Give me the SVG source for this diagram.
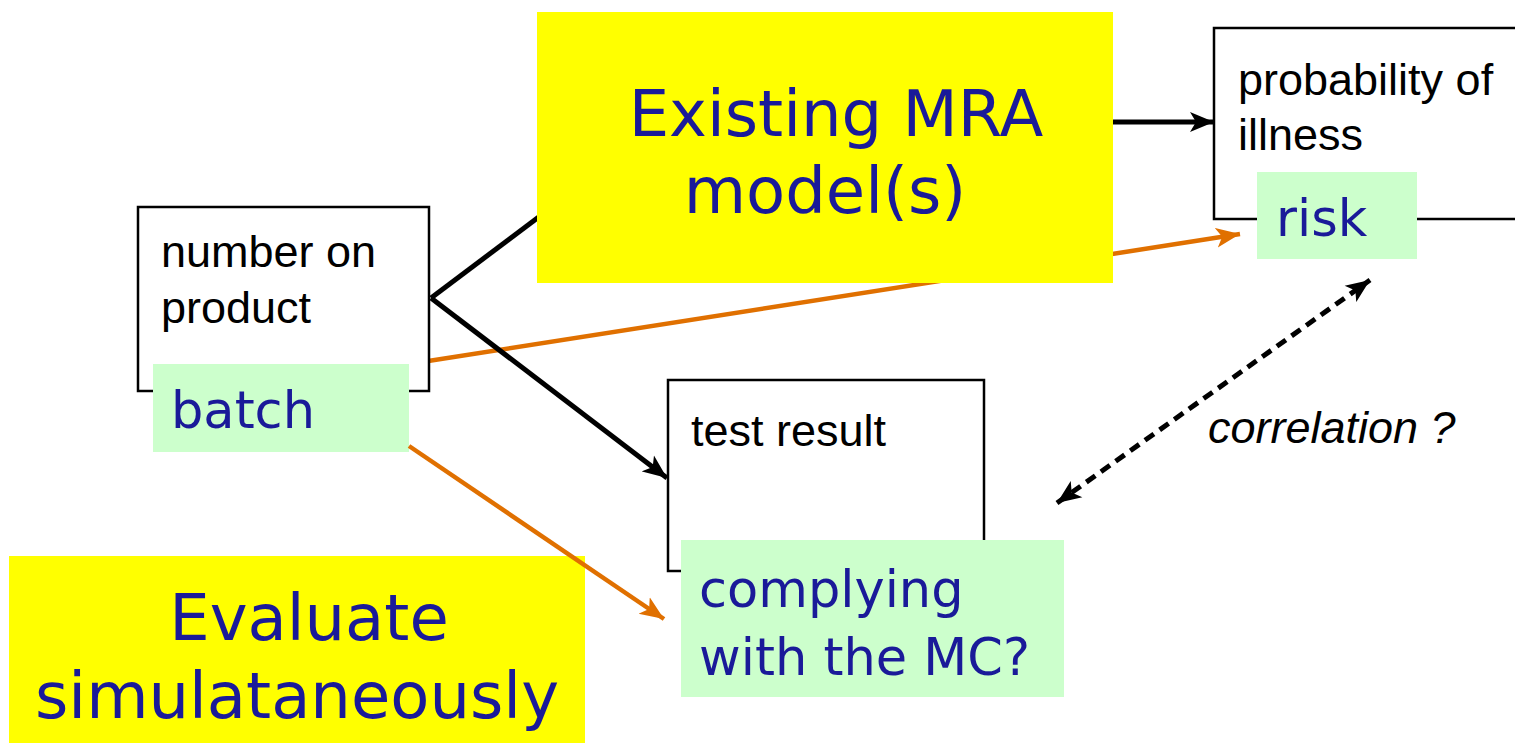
<svg xmlns="http://www.w3.org/2000/svg" width="1515" height="743" viewBox="0 0 1515 743">
<style>
.box{fill:#ffffff;stroke:#000000;stroke-width:2.5}
.yel{fill:#ffff00}
.grn{fill:#ccffcc}
.lbl{font-family:"Liberation Sans",Arial,sans-serif;font-size:45px;fill:#000000}
.big{font-family:"DejaVu Sans",Verdana,sans-serif;font-size:64px;fill:#1a1a99}
.mid{font-family:"DejaVu Sans",Verdana,sans-serif;font-size:51px;fill:#1a1a99}
.blk{stroke:#000000;stroke-width:5;fill:none}
.org{stroke:#e07000;stroke-width:4.5;fill:none}
.dash{stroke:#000000;stroke-width:5;fill:none;stroke-dasharray:11,7}
</style>
<defs>
<marker id="ab" markerUnits="userSpaceOnUse" markerWidth="26" markerHeight="22" refX="24" refY="11" orient="auto">
<path d="M0,1 L24,11 L0,21 L6,11 Z" fill="#000000"/>
</marker>
<marker id="ao" markerUnits="userSpaceOnUse" markerWidth="26" markerHeight="22" refX="24" refY="11" orient="auto">
<path d="M0,1 L24,11 L0,21 L6,11 Z" fill="#e07000"/>
</marker>
<marker id="ad" markerUnits="userSpaceOnUse" markerWidth="26" markerHeight="22" refX="24" refY="11" orient="auto-start-reverse">
<path d="M0,1 L24,11 L0,21 L6,11 Z" fill="#000000"/>
</marker>
</defs>

<g id="connectors-back">
<line class="blk" x1="431" y1="298" x2="560" y2="201"/>
<line class="org" x1="409" y1="364" x2="1240" y2="234" marker-end="url(#ao)"/>
</g>

<g id="node-mra">
<rect class="yel" x="537" y="12" width="576" height="271"/>
<text class="big" x="836" y="136" text-anchor="middle">Existing MRA</text>
<text class="big" x="825" y="213" text-anchor="middle">model(s)</text>
</g>

<g id="node-number">
<rect class="box" x="138" y="207" width="291" height="184"/>
<text class="lbl" x="161" y="267">number on</text>
<text class="lbl" x="161" y="323">product</text>
</g>

<g id="node-batch">
<rect class="grn" x="153" y="364" width="256" height="88"/>
<text class="mid" x="171" y="428">batch</text>
</g>

<g id="node-probability">
<rect class="box" x="1214" y="28" width="310" height="191"/>
<text class="lbl" x="1238" y="95">probability of</text>
<text class="lbl" x="1238" y="150">illness</text>
</g>

<g id="node-risk">
<rect class="grn" x="1257" y="172" width="160" height="87"/>
<text class="mid" x="1276" y="236">risk</text>
</g>

<g id="node-test">
<rect class="box" x="668" y="380" width="316" height="191"/>
<text class="lbl" x="691" y="446">test result</text>
</g>

<g id="node-complying">
<rect class="grn" x="681" y="540" width="383" height="157"/>
<text class="mid" x="699" y="607">complying</text>
<text class="mid" x="699" y="675">with the MC?</text>
</g>

<g id="node-evaluate">
<rect class="yel" x="9" y="556" width="576" height="187"/>
<text class="big" x="309" y="640" text-anchor="middle">Evaluate</text>
<text class="big" x="297" y="718" text-anchor="middle">simulataneously</text>
</g>

<g id="connectors">
<line class="blk" x1="1113" y1="122" x2="1214" y2="122" marker-end="url(#ab)"/>
<line class="blk" x1="431" y1="298" x2="667" y2="478" marker-end="url(#ab)"/>
<line class="org" x1="409" y1="446" x2="664" y2="619" marker-end="url(#ao)"/>
<line class="dash" x1="1057" y1="503" x2="1370" y2="280" marker-start="url(#ad)" marker-end="url(#ad)"/>
<text class="lbl" x="1208" y="443" font-style="italic">correlation ?</text>
</g>
</svg>
